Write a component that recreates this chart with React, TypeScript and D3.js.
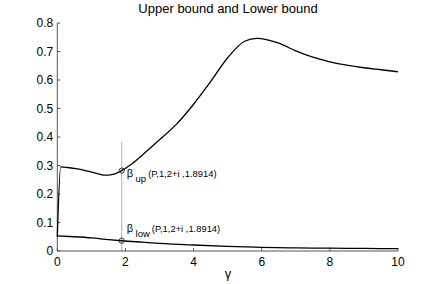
import React from "react";
import * as d3 from "d3";

const title = "Upper bound and Lower bound";
const xLabel = "γ";
const xTicks = [0, 2, 4, 6, 8, 10];
const yTicks = [0, 0.1, 0.2, 0.3, 0.4, 0.5, 0.6, 0.7, 0.8];

const gammaUp = [0, 0.1, 0.3, 0.6, 0.9, 1.2, 1.4, 1.6, 1.8914, 2.2, 2.5, 3, 3.5, 4, 4.5, 5, 5.5, 5.85, 6.5, 7, 7.5, 8, 8.5, 9, 9.5, 10];
const upperVals = [0.05, 0.295, 0.293, 0.288, 0.28, 0.271, 0.266, 0.268, 0.282, 0.307, 0.337, 0.39, 0.445, 0.515, 0.594, 0.678, 0.736, 0.746, 0.729, 0.702, 0.68, 0.664, 0.652, 0.643, 0.636, 0.629];

const gammaLow = [0, 0.5, 1, 1.5, 1.8914, 2.5, 3, 4, 5, 6, 7, 8, 9, 10];
const lowerVals = [0.053, 0.05, 0.046, 0.04, 0.036, 0.031, 0.027, 0.021, 0.016, 0.013, 0.011, 0.01, 0.009, 0.008];

const markGamma = 1.8914;
const markUp = 0.282;
const markLow = 0.036;
const vlineTop = 0.383;
const annotArgs = "(P,1,2+i ,1.8914)";

export default function App() {
  const W = 440, H = 284;
  const x = d3.scaleLinear().domain([0, 10]).range([57.3, 398]);
  const y = d3.scaleLinear().domain([0, 0.8]).range([251, 23]);
  const line = d3.line<[number, number]>().x(d => x(d[0])).y(d => y(d[1])).curve(d3.curveMonotoneX);
  const upPts = gammaUp.map((g, i) => [g, upperVals[i]] as [number, number]);
  const lowPts = gammaLow.map((g, i) => [g, lowerVals[i]] as [number, number]);
  const font = "'Liberation Sans', Arial, Helvetica, sans-serif";
  const axisColor = "#555";
  const x0 = x(0), y0 = y(0);
  const mx = x(markGamma);
  return (
    <svg width={W} height={H} style={{ position: "absolute", left: 0, top: 0, background: "#fff" }} fontFamily={font}>
      <rect width={W} height={H} fill="#fff" />
      <text x={228} y={13} textAnchor="middle" fontSize={13} fill="#000">{title}</text>
      <line x1={mx} x2={mx} y1={y(0)} y2={y(vlineTop)} stroke="#999" strokeWidth={0.8} />
      <line x1={x0} x2={x0} y1={y(0.8)} y2={y0} stroke={axisColor} strokeWidth={1} />
      <line x1={x0} x2={x(10)} y1={y0} y2={y0} stroke={axisColor} strokeWidth={1} />
      {yTicks.map(t => (
        <g key={"y" + t}>
          <line x1={x0} x2={x0 + 3} y1={y(t)} y2={y(t)} stroke={axisColor} />
          <text x={x0 - 4} y={y(t)} dy="0.36em" textAnchor="end" fontSize={12} fill="#000">{t === 0 ? "0" : t.toFixed(1)}</text>
        </g>
      ))}
      {xTicks.map(t => (
        <g key={"x" + t}>
          <line x1={x(t)} x2={x(t)} y1={y0} y2={y0 - 3} stroke={axisColor} />
          <text x={x(t)} y={266} textAnchor="middle" fontSize={12} fill="#000">{t}</text>
        </g>
      ))}
      <text x={228} y={278} textAnchor="middle" fontSize={13} fill="#000">{xLabel}</text>
      <path d={line(upPts) || ""} fill="none" stroke="#000" strokeWidth={1.3} />
      <path d={line(lowPts) || ""} fill="none" stroke="#000" strokeWidth={1.3} />
      <circle cx={mx} cy={y(markUp)} r={2.6} fill="none" stroke="#333" strokeWidth={1} />
      <circle cx={mx} cy={y(markLow)} r={2.6} fill="none" stroke="#333" strokeWidth={1} />
      <text x={mx + 5} y={y(markUp) + 6.5} fontSize={11} fill="#000">
        <tspan>β</tspan><tspan dx={2.5} dy={5} fontSize={9.5}>up</tspan><tspan dx={2} dy={-5} fontSize={9.4}>{annotArgs}</tspan>
      </text>
      <text x={mx + 5} y={y(markLow) - 9} fontSize={11} fill="#000">
        <tspan>β</tspan><tspan dx={2.5} dy={5} fontSize={9.5}>low</tspan><tspan dx={2} dy={-5} fontSize={9.4}>{annotArgs}</tspan>
      </text>
    </svg>
  );
}
